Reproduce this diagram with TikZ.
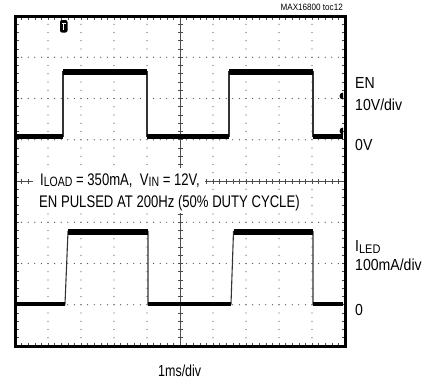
\documentclass[tikz,border=0pt]{standalone}
\usepackage{fontspec}
\setmainfont{Liberation Sans}[FakeStretch=0.78]
\newfontfamily\labfont{Liberation Sans}[FakeStretch=0.88]
\newcommand\mysub[2]{\raisebox{-1.6pt}{\fontsize{#1}{#1}\selectfont #2}}
\begin{document}
\begin{tikzpicture}[x=1pt,y=-1pt,
  dotc/.style={fill=black!65},
  tickc/.style={draw=black!70,line width=0.6pt},
  edge/.style={draw=black!80,line width=1.1pt},
  hiband/.style={draw=black,line width=6pt},
  loband/.style={draw=black,line width=4.6pt},
  frame/.style={draw=black,line width=3pt},
  annot/.style={inner sep=0pt,anchor=base west,font=\fontsize{16.8}{20}\selectfont},
  lab/.style={inner sep=0pt,anchor=base west,font=\labfont\fontsize{16}{19}\selectfont},
  marker/.style={fill=black}]
\useasboundingbox (0,0) rectangle (442,381);
\fill[white] (0,0) rectangle (442,381);
% dotted grid lines
\foreach \i in {1,2,3,4,6,7,8,9}{
  \foreach \k in {1,...,39}{
    \fill[dotc] (\i*33+15,\k*8.25+16) circle (0.65);
  }
}
\foreach \j in {1,2,3,5,6,7}{
  \foreach \k in {1,...,49}{
    \fill[dotc] (\k*6.6+15,\j*41.25+16) circle (0.65);
  }
}
% centre axes with minor ticks
\draw[tickc] (180,16) -- (180,346);
\draw[tickc] (15,181) -- (345,181);
\foreach \k in {1,...,39}{
  \draw[tickc] (177.5,\k*8.25+16) -- (182.5,\k*8.25+16);
  \draw[tickc] (15,\k*8.25+16) -- (18.5,\k*8.25+16);
  \draw[tickc] (341.5,\k*8.25+16) -- (345,\k*8.25+16);
}
\foreach \k in {1,...,49}{
  \draw[tickc] (\k*6.6+15,178.5) -- (\k*6.6+15,183.5);
  \draw[tickc] (\k*6.6+15,16) -- (\k*6.6+15,19.5);
  \draw[tickc] (\k*6.6+15,342.5) -- (\k*6.6+15,346);
}
% white background behind the annotation
\fill[white] (33,168) rectangle (205,190);
\fill[white] (33,190) rectangle (304,213);
% EN trace
\coordinate (e0) at (17,136.5);
\coordinate (e1) at (63,136.5);
\coordinate (e2) at (63,71.5);
\coordinate (e3) at (147,71.5);
\coordinate (e4) at (147,136.5);
\coordinate (e5) at (229,136.5);
\coordinate (e6) at (229,71.5);
\coordinate (e7) at (313,71.5);
\coordinate (e8) at (313,136.5);
\coordinate (e9) at (343,136.5);
\draw[edge] (e0) -- (e1) -- (e2) -- (e3) -- (e4) -- (e5) -- (e6) -- (e7) -- (e8) -- (e9);
\draw[loband] (e0) -- (e1);
\draw[hiband] (e2) -- (e3);
\draw[loband] (e4) -- (e5);
\draw[hiband] (e6) -- (e7);
\draw[loband] (e8) -- (e9);
% ILED trace
\coordinate (l0) at (17,304);
\coordinate (l1) at (65,304);
\coordinate (l2) at (68,231.5);
\coordinate (l3) at (148,231.5);
\coordinate (l4) at (148,304);
\coordinate (l5) at (231,304);
\coordinate (l6) at (233.5,231.5);
\coordinate (l7) at (313,231.5);
\coordinate (l8) at (313,304);
\coordinate (l9) at (343,304);
\draw[edge] (l0) -- (l1) -- (l2) -- (l3) -- (l4) -- (l5) -- (l6) -- (l7) -- (l8) -- (l9);
\draw[loband] (l0) -- (l1);
\draw[hiband] (l2) -- (l3);
\draw[loband] (l4) -- (l5);
\draw[hiband] (l6) -- (l7);
\draw[loband] (l8) -- (l9);
% trigger marker
\fill[black,rounded corners=2pt] (60,20) rectangle (67.5,32.5);
\draw[white,line width=1.2pt] (61.6,23.2) -- (65.9,23.2) (63.75,23.2) -- (63.75,29.5);
% right-edge level markers
\fill[marker] (343,99.5) arc (90:270:3.5) -- cycle;
\fill[marker] (343,134.5) arc (90:270:3.5) -- cycle;
% frame
\draw[frame] (15,16) rectangle (345,346);
% texts
\node[annot] (t1) at (40,185) {I\mysub{13.5}{LOAD} = 350mA,\ \ V\mysub{13.5}{IN} = 12V,};
\node[annot] (t2) at (39,207) {EN PULSED AT 200Hz (50\% DUTY CYCLE)};
\node[lab] (en) at (355,88) {EN};
\node[lab] (env) at (355,110) {10V/div};
\node[lab] (en0) at (355,150) {0V};
\node[lab] (il) at (355,251.5) {I\mysub{12.5}{LED}};
\node[lab] (ilv) at (355,270) {100mA/div};
\node[lab] (il0) at (355,315) {0};
\node[inner sep=0pt,anchor=base west,font=\fontsize{16}{19}\selectfont] (tb) at (158,376) {1ms/div};
\node[inner sep=0pt,anchor=base east,font=\labfont\fontsize{9.2}{11}\selectfont] (toc) at (343,10.5) {MAX16800 toc12};
\end{tikzpicture}
\end{document}
